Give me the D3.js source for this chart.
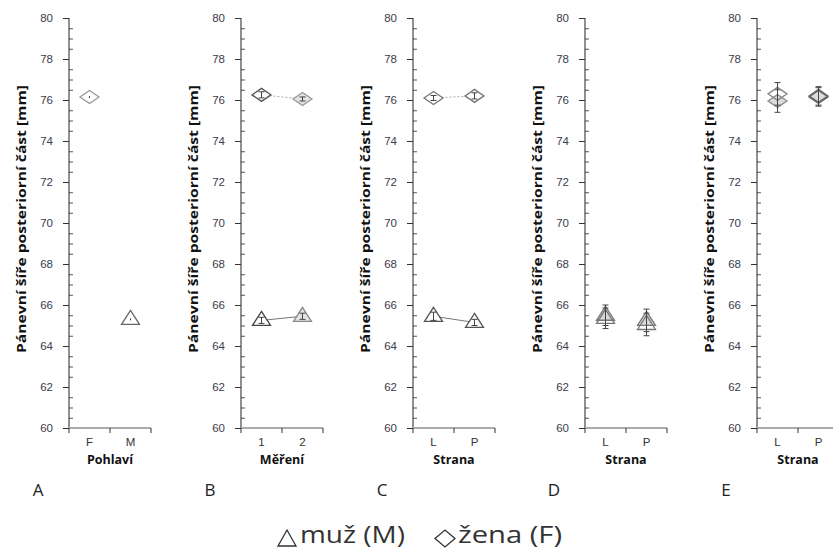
<!DOCTYPE html>
<html>
<head>
<meta charset="utf-8">
<script src="https://cdn.jsdelivr.net/npm/d3@7"></script>
<style>
  body { margin: 0; background: #fff; }
  svg { display: block; font-family: "Open Sans", "DejaVu Sans", sans-serif; }
</style>
</head>
<body>
<div id="chart"></div>
<script>
// panel data
const panelLetters = ["A", "B", "C", "D", "E"];
const xTitles = ["Pohlaví", "Měření", "Strana", "Strana", "Strana"];
const categories = [["F", "M"], ["1", "2"], ["L", "P"], ["L", "P"], ["L", "P"]];
const yTicks = [60, 62, 64, 66, 68, 70, 72, 74, 76, 78, 80];

// A
const menA = [null, 65.3];
const womenA = [76.15, null];
// B
const menB = [65.25, 65.45];
const womenB = [76.25, 76.05];
const errMenB = [0.15, 0.15];
const errWomenB = [0.15, 0.1];
// C
const menC = [65.45, 65.15];
const womenC = [76.1, 76.2];
const errMenC = [0.2, 0.15];
const errWomenC = [0.12, 0.15];
// D (two measurements per side)
const menD1 = [65.5, 65.25];
const menD2 = [65.35, 65.05];
const errMenD = [0.5, 0.55];
// E
const womenE1 = [76.3, 76.2];
const womenE2 = [75.95, 76.15];
const errWomenE = [0.55, 0.45];

const width = 833, height = 551;
const svg = d3.select("#chart").append("svg").attr("width", width).attr("height", height);

const y = d3.scaleLinear().domain([60, 80]).range([428, 18]);
const panelX0 = [69, 241, 413, 585, 757];
const bandW = 82;

function triPath(cx, cy) {
  return `M${cx},${cy - 9}L${cx + 9},${cy + 5}L${cx - 9},${cy + 5}Z`;
}
function diaPath(cx, cy) {
  return `M${cx},${cy - 6.5}L${cx + 9.5},${cy}L${cx},${cy + 6.5}L${cx - 9.5},${cy}Z`;
}

const panels = [
  { series: [
    { vals: menA, shape: "tri", fill: ["#fff", "#fff"], stroke: ["#666", "#666"] },
    { vals: womenA, shape: "dia", fill: ["#fff", "#fff"], stroke: ["#999", "#999"] } ] },
  { series: [
    { vals: menB, err: errMenB, shape: "tri", line: "solid", fill: ["#fff", "#e4e4e4"], stroke: ["#444", "#888"] },
    { vals: womenB, err: errWomenB, shape: "dia", line: "dot", fill: ["#fff", "#e4e4e4"], stroke: ["#555", "#999"] } ] },
  { series: [
    { vals: menC, err: errMenC, shape: "tri", line: "solid", fill: ["#fff", "#fff"], stroke: ["#555", "#555"] },
    { vals: womenC, err: errWomenC, shape: "dia", line: "dot", fill: ["#fff", "#fff"], stroke: ["#777", "#777"] } ] },
  { series: [
    { vals: menD1, err: errMenD, shape: "tri", fill: ["#d8d8d8", "#d8d8d8"], stroke: ["#777", "#777"] },
    { vals: menD2, err: errMenD, shape: "tri", fill: ["none", "none"], stroke: ["#777", "#777"] } ] },
  { series: [
    { vals: womenE2, err: errWomenE, shape: "dia", fill: ["#dcdcdc", "#dcdcdc"], stroke: ["#888", "#666"] },
    { vals: womenE1, err: errWomenE, shape: "dia", fill: ["none", "none"], stroke: ["#888", "#666"] } ] }
];

panels.forEach((p, i) => {
  const x0 = panelX0[i];
  const g = svg.append("g");
  const x = d3.scaleBand().domain(categories[i]).range([x0, x0 + bandW]);

  // y axis
  const minor = d3.range(60, 80.01, 0.5).filter(v => v % 2 !== 0);
  g.append("g").attr("transform", `translate(${x0},0)`)
    .call(d3.axisRight(y).tickValues(minor).tickSize(4).tickFormat(""))
    .call(a => a.select(".domain").remove())
    .selectAll("line").attr("stroke", "#555");
  const ya = g.append("g").attr("transform", `translate(${x0},0)`)
    .call(d3.axisLeft(y).tickValues(yTicks).tickSize(6).tickPadding(6).tickFormat(d3.format("d")));
  ya.select(".domain").attr("stroke", "#222").attr("d", `M0,${y(80)}V${y(60)}`);
  ya.selectAll("line").attr("stroke", "#333");
  ya.selectAll("text").attr("fill", "#3c3c4c").style("font-size", "11.5px").attr("dx", -4);

  // x axis
  const xa = g.append("g").attr("transform", `translate(0,${y(60)})`)
    .call(d3.axisBottom(x).tickSize(0).tickPadding(10));
  xa.select(".domain").attr("stroke", "#aaa").attr("stroke-width", 2).attr("d", `M${x0},0H${x0 + bandW}`);
  xa.selectAll("text").attr("fill", "#333").style("font-size", "11.5px");
  [x0, x0 + bandW / 2, x0 + bandW].forEach(t => {
    g.append("line").attr("x1", t).attr("x2", t).attr("y1", y(60)).attr("y2", y(60) + 5).attr("stroke", "#333");
  });

  g.append("text").attr("x", x0 + bandW / 2).attr("y", 464).attr("text-anchor", "middle")
    .style("font-size", "12.5px").style("font-weight", "bold").attr("fill", "#111").text(xTitles[i]);
  g.append("text").attr("x", x0 - 31).attr("y", 496).attr("text-anchor", "middle")
    .style("font-size", "17px").attr("fill", "#222").text(panelLetters[i]);

  g.append("text")
    .attr("transform", `translate(${x0 - 43},${y(70) - 4}) rotate(-90)`)
    .attr("text-anchor", "middle")
    .attr("textLength", 268).attr("lengthAdjust", "spacingAndGlyphs")
    .style("font-size", "13px").style("font-weight", "bold").attr("fill", "#111")
    .text("Pánevní šíře posteriorní část [mm]");

  const cx = k => x(categories[i][k]) + x.bandwidth() / 2;

  // connecting lines
  p.series.forEach(s => {
    if (!s.line) return;
    const line = d3.line().x((d, k) => cx(k)).y(d => y(d));
    g.append("path").attr("d", line(s.vals)).attr("fill", "none")
      .attr("stroke", s.line === "dot" ? "#aaa" : "#777").attr("stroke-width", 1)
      .attr("stroke-dasharray", s.line === "dot" ? "2,2" : null);
  });

  // markers
  p.series.forEach(s => {
    s.vals.forEach((v, k) => {
      if (v == null) return;
      const px = cx(k), py = y(v);
      const d = s.shape === "tri" ? triPath(px, py) : diaPath(px, py);
      g.append("path").attr("d", d).attr("fill", s.fill[k]).attr("stroke", s.stroke[k]).attr("stroke-width", 1.3);
      const e = s.err ? s.err[k] : 0.05;
      const ey1 = y(v + e), ey2 = y(v - e);
      g.append("line").attr("x1", px).attr("x2", px).attr("y1", ey1).attr("y2", ey2).attr("stroke", "#444");
      if (s.err) {
        [ey1, ey2].forEach(ey => g.append("line").attr("x1", px - 3).attr("x2", px + 3)
          .attr("y1", ey).attr("y2", ey).attr("stroke", "#444"));
      }
    });
  });
});

// legend
const lg = svg.append("g");
lg.append("path").attr("d", "M278,546L287,530L296,546Z").attr("fill", "none").attr("stroke", "#333").attr("stroke-width", 1.3);
lg.append("text").attr("x", 300).attr("y", 543).attr("textLength", 105).attr("lengthAdjust", "spacingAndGlyphs")
  .style("font-size", "23px").attr("fill", "#333").text("muž (M)");
lg.append("path").attr("d", "M435,538.5L445,530L455,538.5L445,547Z").attr("fill", "none").attr("stroke", "#333").attr("stroke-width", 1.3);
lg.append("text").attr("x", 458).attr("y", 543).attr("textLength", 104).attr("lengthAdjust", "spacingAndGlyphs")
  .style("font-size", "23px").attr("fill", "#333").text("žena (F)");
</script>
</body>
</html>
